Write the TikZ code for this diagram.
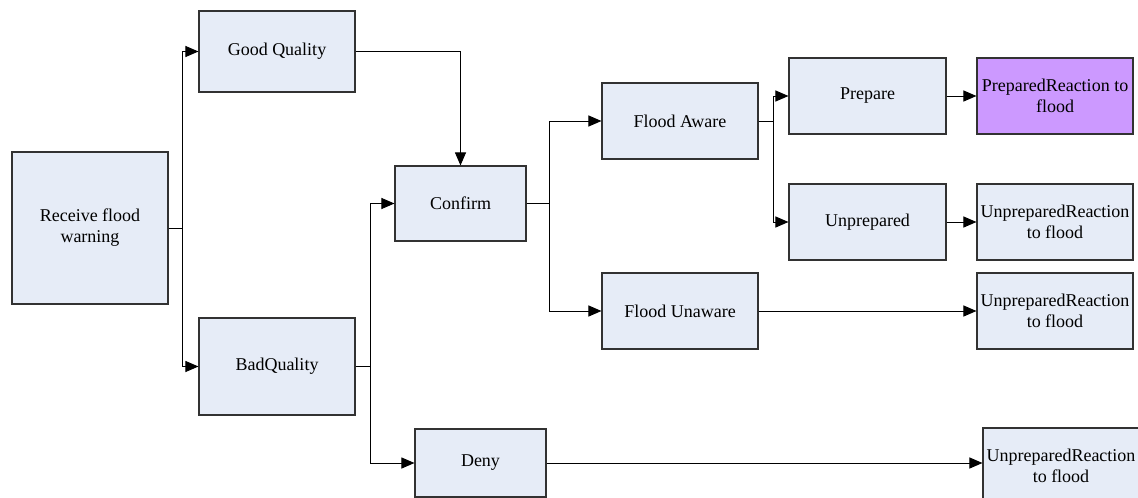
\documentclass[tikz,border=0pt]{standalone}
\usepackage{fontspec}
\setmainfont{Liberation Serif}
\usetikzlibrary{arrows.meta}
\definecolor{boxfill}{RGB}{230,236,247}
\definecolor{purplefill}{RGB}{204,153,255}
\definecolor{boxline}{RGB}{50,50,50}
\tikzset{
  stepbox/.style={draw=boxline, line width=1.1pt, fill=boxfill, align=center,
    inner sep=2pt, font=\fontsize{18}{21}\selectfont},
  arr/.style={draw=black, line width=1pt, -{Triangle[length=13pt,width=11pt]}},
  plain/.style={draw=black, line width=1pt}
}
\begin{document}
\begin{tikzpicture}[x=1pt,y=-1pt]
\clip (0,0) rectangle (1138,498);
\fill[white] (0,0) rectangle (1138,498);

\node[stepbox, minimum width=156pt, minimum height=152pt] (recv) at (90,228) {Receive flood\\warning};
\node[stepbox, minimum width=156pt, minimum height=81pt] (good) at (277,51.5) {Good Quality};
\node[stepbox, minimum width=156pt, minimum height=97pt] (bad) at (277,366.5) {BadQuality};
\node[stepbox, minimum width=131pt, minimum height=75pt] (confirm) at (460.5,203.5) {Confirm};
\node[stepbox, minimum width=131pt, minimum height=68pt] (deny) at (480.5,463) {Deny};
\node[stepbox, minimum width=156pt, minimum height=76pt] (faware) at (680,121) {Flood Aware};
\node[stepbox, minimum width=156pt, minimum height=76pt] (funaware) at (680,311) {Flood Unaware};
\node[stepbox, minimum width=157pt, minimum height=76pt] (prepare) at (867.5,96) {Prepare};
\node[stepbox, minimum width=157pt, minimum height=76pt] (unprep) at (867.5,222) {Unprepared};
\node[stepbox, fill=purplefill, minimum width=156pt, minimum height=76pt] (prr) at (1055,96) {PreparedReaction to\\flood};
\node[stepbox, minimum width=156pt, minimum height=76pt] (ur1) at (1055,222) {UnpreparedReaction\\to flood};
\node[stepbox, minimum width=156pt, minimum height=76pt] (ur2) at (1055,311) {UnpreparedReaction\\to flood};
\node[stepbox, minimum width=156pt, minimum height=76pt] (ur3) at (1061,466) {UnpreparedReaction\\to flood};

% receive -> good / bad
\draw[arr] (recv.east) -- ++(14,0) |- (good.west);
\draw[arr] (recv.east) -- ++(14,0) |- (bad.west);
% good -> confirm
\draw[arr] (good.east) -| (confirm.north);
% bad -> confirm / deny
\draw[arr] (bad.east) -- ++(15,0) |- (confirm.west);
\draw[arr] (bad.east) -- ++(15,0) |- (deny.west);
% confirm -> aware / unaware
\draw[arr] (confirm.east) -- ++(23,0) |- (faware.west);
\draw[arr] (confirm.east) -- ++(23,0) |- (funaware.west);
% aware -> prepare / unprepared
\draw[arr] (faware.east) -- ++(15,0) |- (prepare.west);
\draw[arr] (faware.east) -- ++(15,0) |- (unprep.west);
% outcomes
\draw[arr] (prepare.east) -- (prr.west);
\draw[arr] (unprep.east) -- (ur1.west);
\draw[arr] (funaware.east) -- (ur2.west);
\draw[arr] (deny.east) -- (deny.east -| ur3.west);
\end{tikzpicture}
\end{document}
